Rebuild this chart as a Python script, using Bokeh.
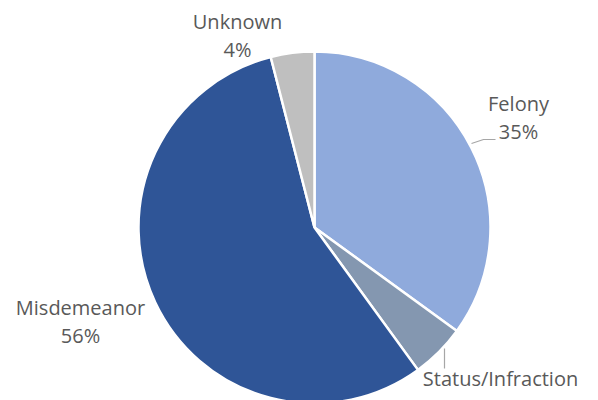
import numpy as np
from bokeh.plotting import figure
from bokeh.models import Range1d, ColumnDataSource
from bokeh.core.properties import value
from bokeh.embed import file_html
from bokeh.resources import INLINE

# ---- data ----
categories = ["Felony", "Status/Infraction", "Misdemeanor", "Unknown"]
shares = [35, 5, 56, 4]
colors = ["#8FAADC", "#8497B0", "#2F5597", "#BFBFBF"]

# ---- layout (screen px -> data: x same, y = H - screen_y) ----
W, H = 598, 400
cx, cy_screen, R = 314, 227, 176
cy = H - cy_screen

frac = np.array(shares, dtype=float) / sum(shares)
cum = np.concatenate([[0], np.cumsum(frac)])
start = np.pi / 2 - 2 * np.pi * cum[:-1]
end = np.pi / 2 - 2 * np.pi * cum[1:]

p = figure(width=W, height=H, output_backend="svg", toolbar_location=None,
           x_range=Range1d(0, W), y_range=Range1d(0, H),
           min_border=0)
p.axis.visible = False
p.grid.visible = False
p.outline_line_color = None
p.background_fill_color = "white"

src = ColumnDataSource(dict(start=end, end=start, color=colors))
p.wedge(x=cx, y=cy, radius=R, radius_units="screen",
        start_angle="start", end_angle="end", fill_color="color",
        line_color="white", line_width=2.5, source=src)

# label layout (screen coordinates of label centres)
label_x = [518, 500, 80, 237]
label_y = [103, 378, 307, 21]
line_gap = 28
names = categories
pcts = [f"{s}%" for s in shares]

lsrc = ColumnDataSource(dict(
    x=label_x + label_x,
    y=[H - y for y in label_y] + [H - (y + line_gap) for y in label_y],
    t=names + pcts))
p.text(x="x", y="y", text="t", source=lsrc, text_align="center",
       text_baseline="middle", text_font=value("Open Sans"),
       text_font_size="20px", text_color="#595959")

# leader lines
lead_xs = [[471, 483, 495], [444, 444]]
lead_ys = [[H - 143, H - 139, H - 139], [H - 348, H - 368]]
p.multi_line(xs=lead_xs, ys=lead_ys, line_color="#A6A6A6", line_width=1.2)

open("out.html", "w").write(file_html(p, INLINE))
